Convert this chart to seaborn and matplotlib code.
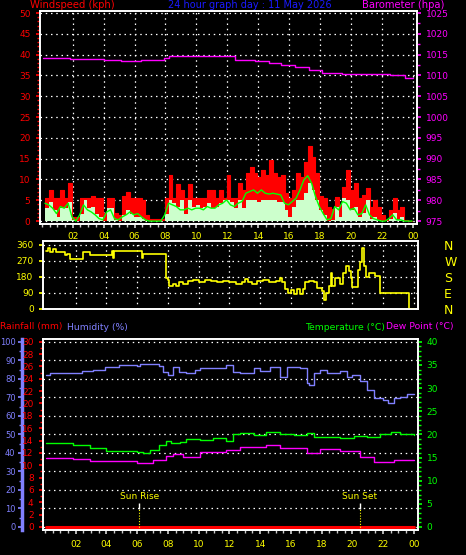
import numpy as np
import matplotlib
matplotlib.use('Agg')
import matplotlib.pyplot as plt
from matplotlib.ticker import MultipleLocator
import seaborn as sns

# ---- wind (15 min samples) ----
wind_hours = np.arange(0.2, 24.0, 0.25)
wind_gust = [5.5, 7.5, 5.5, 5.5, 7.5, 5.5, 9.1, 1.0,
             1.0, 5.5, 5.5, 5.5, 6.0, 5.5, 5.5, 2.0,
             5.5, 5.5, 2.0, 1.5, 6.0, 7.0, 5.5, 5.5,
             5.5, 5.0, 1.5, 0.5, 0.5, 0.5, 0.5, 5.5,
             11.0, 5.5, 9.0, 7.5, 5.5, 9.0, 5.5, 5.5,
             5.5, 5.5, 7.5, 7.5, 5.5, 7.5, 5.5, 11.0,
             5.5, 5.5, 9.1, 7.5, 11.5, 13.0, 11.5, 10.7,
             12.3, 11.1, 14.7, 11.5, 10.7, 11.1, 6.7, 5.5,
             7.5, 11.5, 10.7, 14.3, 18.0, 15.5, 11.5, 6.0,
             5.5, 3.5, 3.0, 5.9, 3.9, 8.3, 12.3, 7.5,
             9.1, 5.5, 6.3, 7.9, 3.5, 5.1, 3.5, 1.5,
             0.3, 2.7, 5.5, 2.7, 3.5, 0.3, 0.0, 0.0]
wind_speed = [3.1, 4.7, 2.7, 1.0, 3.1, 3.1, 4.7, 0.3,
              0.0, 1.8, 5.1, 3.1, 3.5, 1.8, 1.0, 0.0,
              3.1, 3.1, 0.3, 0.0, 1.5, 2.7, 1.8, 1.0,
              1.0, 0.6, 0.0, 0.0, 0.0, 0.0, 0.0, 1.8,
              5.1, 4.3, 3.5, 5.1, 1.8, 5.1, 3.5, 3.9,
              3.1, 3.5, 4.3, 3.1, 3.5, 4.3, 5.1, 5.1,
              4.7, 3.1, 5.1, 3.1, 5.1, 5.1, 5.1, 4.7,
              5.1, 5.1, 5.1, 5.1, 4.7, 4.7, 2.7, 1.0,
              3.5, 5.1, 5.1, 6.7, 9.1, 7.5, 5.1, 2.7,
              1.5, 0.0, 0.3, 3.5, 1.0, 5.5, 5.1, 2.7,
              3.5, 1.0, 2.0, 5.1, 0.6, 1.0, 0.3, 0.0,
              0.0, 0.6, 2.0, 0.3, 1.0, 0.0, 0.0, 0.0]
wind_avg = [4.3, 3.9, 3.1, 1.8, 3.5, 3.1, 4.3, 1.0,
            0.0, 1.5, 3.9, 2.7, 2.2, 1.5, 0.6, 0.3,
            2.2, 2.7, 0.6, 0.3, 1.0, 1.5, 2.2, 1.5,
            1.8, 1.0, 0.3, 0.0, 0.0, 0.0, 0.0, 1.5,
            4.3, 3.9, 3.5, 2.7, 2.7, 3.1, 2.7, 3.1,
            3.1, 2.7, 3.5, 3.1, 3.1, 3.9, 4.3, 5.1,
            3.9, 3.5, 4.3, 4.7, 6.7, 7.1, 7.5, 6.7,
            7.5, 6.7, 6.5, 6.7, 6.5, 6.3, 4.3, 3.9,
            4.7, 5.5, 7.5, 9.9, 10.9, 9.1, 5.9, 3.5,
            1.8, 0.3, 0.6, 3.5, 2.7, 4.7, 4.3, 2.7,
            3.1, 1.5, 1.8, 3.9, 1.5, 0.6, 0.3, 0.0,
            0.0, 0.6, 1.5, 0.3, 0.3, 0.0, 0.0, 0.0]

# ---- barometer ----
baro_hours = [0.05, 1.8, 4.0, 5.1, 6.4, 7.9, 8.2, 9.8, 11.6, 12.5, 13.8,
              14.7, 15.5, 16.4, 17.3, 18.1, 19.4, 21.2, 22.5, 23.5, 24.0]
baro = [1014.1, 1013.9, 1013.8, 1013.5, 1013.8, 1014.1, 1014.6, 1014.6,
        1014.6, 1013.8, 1013.4, 1013.0, 1012.6, 1012.0, 1011.2, 1010.6,
        1010.4, 1010.3, 1010.0, 1009.5, 1009.4]

# ---- wind direction ----
dir_hours = [0.05, 0.2, 0.35, 0.5, 0.7, 1.2, 1.3, 1.45, 1.6, 2.5, 2.6, 2.9,
             4.3, 4.35, 4.45, 4.5, 6.25, 6.3, 6.35, 7.85, 7.9, 8.0, 8.1, 8.3,
             8.5, 8.7, 9.0, 9.3, 9.6, 10.0, 10.4, 10.8, 11.2, 11.6, 12.0, 12.4,
             12.8, 13.0, 13.2, 13.5, 13.8, 14.2, 14.6, 15.0, 15.3, 15.45, 15.6,
             15.8, 16.0, 16.2, 16.4, 16.6, 16.8, 16.9, 17.2, 17.5, 17.7, 18.0,
             18.15, 18.3, 18.5, 18.6, 18.7, 18.9, 19.2, 19.4, 19.6, 19.8, 19.9,
             20.0, 20.3, 20.35, 20.5, 20.65, 20.75, 20.9, 21.1, 21.5, 21.8,
             23.7, 24.0]
dir_deg = [325, 340, 320, 335, 318, 318, 300, 310, 278, 320, 318, 300,
           300, 325, 285, 325, 325, 285, 305, 305, 175, 160, 130, 140,
           125, 150, 140, 155, 160, 150, 160, 155, 150, 158, 148, 140,
           150, 165, 150, 140, 155, 160, 150, 158, 170, 150, 110,
           90, 105, 80, 110, 85, 110, 150, 158, 150, 115, 100,
           50, 90, 130, 200, 130, 170, 140, 200, 240, 210, 175,
           120, 120, 220, 260, 340, 240, 180, 200, 185, 90,
           0, 0]

# ---- humidity / temperature / dew point / rain ----
hum_hours = [0.05, 0.3, 1.85, 2.4, 3.1, 3.9, 4.8, 5.97, 6.2, 7.4, 7.7, 8.0,
             8.36, 8.7, 9.2, 9.75, 10.1, 10.96, 11.8, 12.2, 12.7, 13.6, 14.0,
             14.66, 15.3, 15.75, 16.6, 17.05, 17.2, 17.5, 17.9, 18.35, 19.2,
             19.66, 19.98, 20.5, 20.95, 21.4, 22.0, 22.3, 22.7, 23.1, 23.56, 24.0]
humidity = [82.0, 83.0, 83.3, 84.2, 85.0, 86.5, 87.6, 86.9, 87.8, 87.0, 83.8,
            82.0, 86.5, 83.8, 83.0, 84.8, 85.7, 85.7, 87.4, 83.8, 83.0, 85.7,
            84.0, 86.5, 81.1, 86.5, 85.7, 77.5, 76.5, 83.0, 84.8, 83.3, 84.0,
            81.1, 82.0, 79.0, 73.9, 69.4, 68.5, 67.1, 69.4, 70.4, 71.6, 71.6]

temp_hours = [0.05, 1.85, 2.9, 4.0, 5.97, 6.4, 6.84, 7.4, 7.9, 8.2, 8.8, 9.2,
              10.1, 10.96, 11.8, 12.2, 12.7, 13.6, 14.4, 15.3, 16.2, 17.05,
              17.5, 18.35, 19.2, 20.1, 20.95, 21.8, 22.5, 23.1, 24.0]
temperature = [18.1, 17.7, 17.0, 16.5, 16.1, 16.0, 16.6, 17.7, 18.6, 18.1,
               18.4, 18.9, 18.8, 19.2, 18.6, 20.1, 20.4, 19.8, 20.6, 20.0,
               19.8, 20.3, 19.4, 19.4, 19.2, 19.7, 19.5, 20.1, 20.5, 20.0, 19.8]

dew_hours = [0.05, 1.85, 2.9, 4.0, 5.97, 6.4, 7.0, 7.9, 8.36, 9.0, 10.1, 11.8,
             12.7, 14.4, 15.3, 16.6, 17.05, 17.9, 19.2, 20.5, 21.4, 22.3, 22.7, 24.0]
dew_point = [14.8, 14.7, 14.3, 14.3, 13.8, 13.9, 14.5, 15.3, 15.8, 15.1, 16.3,
             16.6, 17.2, 17.7, 17.0, 17.0, 16.0, 16.8, 16.5, 15.2, 14.1, 14.0,
             14.5, 14.5]

rain_hours = [0.05, 24.0]
rain = [0.0, 0.0]

sun_hours = [6.14, 20.48]
sun_labels = ['Sun Rise', 'Sun Set']

hour_ticks = list(range(2, 25, 2))
hour_labels = ['%02d' % (h % 24) for h in hour_ticks]
compass = ['N', 'E', 'S', 'W', 'N']

RED = '#ff0000'
MAG = '#ff00ff'
YEL = '#ffff00'
GRN = '#00ff00'
HUMC = '#8080ff'
PALE = '#ccffcc'

sns.set_theme(style='dark', rc={'figure.facecolor': 'black', 'axes.facecolor': 'black',
                                'savefig.facecolor': 'black', 'axes.edgecolor': 'white',
                                'axes.linewidth': 1.2, 'axes.grid': True,
                                'grid.color': 'white', 'grid.linestyle': ':',
                                'grid.linewidth': 1.0})
plt.rcParams['font.family'] = ['DejaVu Sans']

W, H = 466, 555
fig = plt.figure(figsize=(W / 100, H / 100), dpi=100)


def box(x0, y0, x1, y1):
    return [x0 / W, 1 - y1 / H, (x1 - x0) / W, (y1 - y0) / H]


grid_kw = dict(color='white', linestyle=(0, (1.2, 3)), linewidth=0.9, alpha=1.0)
XLIM = (-0.15, 24.25)


def hour_axis(ax, labels=True):
    ax.set_xlim(*XLIM)
    ax.set_xticks(hour_ticks)
    ax.set_xticklabels(hour_labels if labels else [])
    ax.xaxis.set_minor_locator(MultipleLocator(0.5))
    ax.tick_params(axis='x', which='both', bottom=True, colors='#cccccc',
                   labelcolor=YEL, labelsize=6.5, direction='out')
    ax.tick_params(axis='x', which='major', length=3, pad=3)
    ax.tick_params(axis='x', which='minor', length=2)


# ---------------- top panel: wind + barometer ----------------
ax1 = fig.add_axes(box(39.5, 11, 416.7, 224))
ax1.fill_between(wind_hours, 0, wind_gust, step='post', color=RED, lw=0, zorder=2)
sns.lineplot(x=wind_hours, y=wind_gust, ax=ax1, color=RED, lw=0.8,
             drawstyle='steps-post', estimator=None, sort=False, zorder=2)
ax1.fill_between(wind_hours, 0, wind_speed, step='post', color=PALE, lw=0, zorder=3)
sns.lineplot(x=wind_hours, y=wind_avg, ax=ax1, color=GRN, lw=1.0,
             estimator=None, sort=False, zorder=4)
hour_axis(ax1)
ax1.set_ylim(-0.7, 50.5)
ax1.yaxis.set_major_locator(MultipleLocator(5))
ax1.yaxis.set_minor_locator(MultipleLocator(1))
ax1.tick_params(axis='y', which='both', left=True, colors=RED, labelsize=6.5)
ax1.tick_params(axis='y', which='major', length=3)
ax1.tick_params(axis='y', which='minor', length=2)

ax1b = ax1.twinx()
sns.lineplot(x=baro_hours, y=baro, ax=ax1b, color=MAG, lw=1.0,
             drawstyle='steps-post', estimator=None, sort=False)
ax1b.set_ylim(974.3, 1025.5)
ax1b.yaxis.set_major_locator(MultipleLocator(5))
ax1b.yaxis.set_minor_locator(MultipleLocator(2.5))
ax1b.tick_params(axis='y', which='both', right=True, colors=MAG, labelsize=6.5)
ax1b.tick_params(axis='y', which='major', length=3)
ax1b.tick_params(axis='y', which='minor', length=2)
ax1b.set_xlim(*XLIM)

# ---------------- middle panel: wind direction ----------------
ax2 = fig.add_axes(box(42.7, 241, 417.7, 309))
sns.lineplot(x=dir_hours, y=dir_deg, ax=ax2, color=YEL, lw=1.2,
             drawstyle='steps-post', estimator=None, sort=False, zorder=3)
ax2.set_xlim(*XLIM)
ax2.set_xticks(hour_ticks)
ax2.set_xticklabels([])
ax2.tick_params(axis='x', length=0)
ax2.set_ylim(-2, 381)
ax2.set_yticks([0, 90, 180, 270, 360])
ax2.tick_params(axis='y', left=True, length=3, colors=YEL, labelsize=6.5)

ax2b = ax2.twinx()
ax2b.set_ylim(-2, 381)
ax2b.set_yticks([0, 90, 180, 270, 360])
ax2b.set_yticklabels(compass)
ax2b.tick_params(axis='y', right=True, length=0, pad=19, labelcolor=YEL, labelsize=9)

# ---------------- bottom panel ----------------
ax3 = fig.add_axes(box(42.7, 339, 417.7, 530))
ax3h = ax3.twinx()
ax3t = ax3.twinx()
ax3h.set_zorder(0)
ax3.set_zorder(1)
ax3t.set_zorder(2)
ax3.patch.set_visible(False)
ax3h.patch.set_visible(True)
ax3h.patch.set_facecolor('black')

# humidity (own axis, outer left)
sns.lineplot(x=hum_hours, y=humidity, ax=ax3h, color=HUMC, lw=1.0,
             drawstyle='steps-post', estimator=None, sort=False, zorder=3)
ax3h.set_ylim(-1.62, 101.5)
ax3h.yaxis.set_major_locator(MultipleLocator(10))
ax3h.yaxis.set_minor_locator(MultipleLocator(5))
ax3h.yaxis.set_ticks_position('left')
ax3h.yaxis.set_label_position('left')
ax3h.spines['left'].set_position(('outward', 15))
ax3h.spines['left'].set_visible(True)
ax3h.spines['left'].set_color(HUMC)
ax3h.spines['left'].set_linewidth(2.5)
for s in ['right', 'top', 'bottom']:
    ax3h.spines[s].set_visible(False)
ax3h.tick_params(axis='y', which='both', left=True, right=False, colors=HUMC,
                 labelsize=6, pad=1.5)
ax3h.tick_params(axis='y', which='major', length=3)
ax3h.tick_params(axis='y', which='minor', length=2)
ax3h.set_xlim(*XLIM)
ax3h.set_xticks(hour_ticks)
ax3h.tick_params(axis='x', bottom=False, labelbottom=False)

# rain (host axis)
sns.lineplot(x=rain_hours, y=rain, ax=ax3, color=RED, lw=2.2,
             estimator=None, sort=False)
hour_axis(ax3)
ax3.tick_params(axis='x', which='major', pad=4)
ax3.set_ylim(-0.49, 30.44)
ax3.yaxis.set_major_locator(MultipleLocator(2))
ax3.yaxis.set_minor_locator(MultipleLocator(1))
ax3.tick_params(axis='y', which='both', left=True, colors=RED, labelsize=6.5)
ax3.tick_params(axis='y', which='major', length=3)
ax3.tick_params(axis='y', which='minor', length=2)
ax3.vlines(sun_hours, -0.49, 3.9, color=YEL, linestyle=(0, (1, 1.5)), lw=0.8)
ax3.vlines(sun_hours, 2.9, 3.9, color='white', lw=1.0)
for h, lab in zip(sun_hours, sun_labels):
    ax3.text(h, 4.2, lab, color=YEL, fontsize=6.5, ha='center', va='bottom')

# temperature + dew point (right axis)
sns.lineplot(x=temp_hours, y=temperature, ax=ax3t, color=GRN, lw=1.0,
             drawstyle='steps-post', estimator=None, sort=False)
sns.lineplot(x=dew_hours, y=dew_point, ax=ax3t, color=MAG, lw=1.0,
             drawstyle='steps-post', estimator=None, sort=False)
ax3t.set_ylim(-0.65, 40.6)
ax3t.yaxis.set_major_locator(MultipleLocator(5))
ax3t.yaxis.set_minor_locator(MultipleLocator(1))
ax3t.tick_params(axis='y', which='both', right=True, colors=GRN, labelsize=6.5)
ax3t.tick_params(axis='y', which='major', length=3)
ax3t.tick_params(axis='y', which='minor', length=2)
ax3t.set_xlim(*XLIM)

for a in [ax1, ax1b, ax2, ax2b, ax3h, ax3, ax3t]:
    a.set_xlabel('')
    a.set_ylabel('')

# dotted white grids (set last so nothing resets them)
for a in [ax1b, ax2b, ax3, ax3t]:
    a.grid(False)
for a in [ax1, ax2, ax3h]:
    a.set_axisbelow(True)
    a.xaxis.grid(True, which='major', **grid_kw)
    a.yaxis.grid(True, which='major', **grid_kw)
    a.xaxis.grid(False, which='minor')
    a.yaxis.grid(False, which='minor')

# ---------------- header texts ----------------
def ftext(x, y, s, color, ha='left', size=7.2):
    fig.text(x / W, 1 - y / H, s, color=color, ha=ha, va='center', fontsize=size)


ftext(30, 5.5, 'Windspeed (kph)', RED)
ftext(250, 5.5, '24 hour graph day : 11 May 2026', '#1a1aff', ha='center', size=7)
ftext(444, 5.5, 'Barometer (hpa)', MAG, ha='right')
ftext(0, 327, 'Rainfall (mm)', RED, size=6.7)
ftext(67, 327, 'Humidity (%)', HUMC, size=6.7)
ftext(385, 327, 'Temperature (°C)', GRN, ha='right', size=6.7)
ftext(386, 327, 'Dew Point (°C)', MAG, size=6.7)

fig.savefig('out.png', dpi=100, facecolor='black')
